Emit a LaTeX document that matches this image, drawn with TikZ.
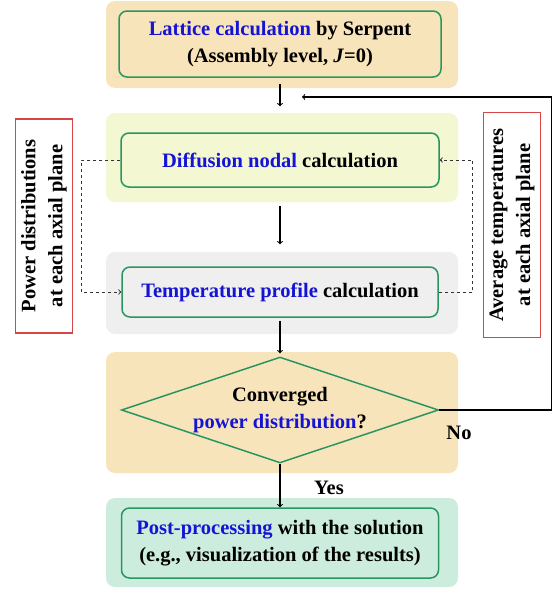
\documentclass[tikz,border=0pt]{standalone}
\usepackage{fontspec}
\setmainfont{Liberation Serif}
\usepackage{tikz}
\usetikzlibrary{arrows}
\usetikzlibrary{shapes}
\definecolor{band_tan}{RGB}{248,228,186}
\definecolor{band_lime}{RGB}{243,247,210}
\definecolor{band_gray}{RGB}{239,239,239}
\definecolor{band_mint}{RGB}{204,237,222}
\definecolor{edge_green}{RGB}{40,150,95}
\definecolor{edge_red}{RGB}{215,70,70}
\definecolor{text_blue}{RGB}{20,20,210}
\newcommand{\bluetext}[1]{\textcolor{text_blue}{#1}}

\begin{document}
\begin{tikzpicture}[->,line width=1.1pt,>=to,x=1pt,y=-1pt,font=\fontsize{20.5}{27}\selectfont\bfseries]
    \tikzstyle{band}=[draw=none, rectangle, rounded corners=9pt, minimum width=352pt]
    \tikzstyle{stepbox}=[draw=edge_green, line width=1.5pt, rectangle, rounded corners=8pt, align=center, text=black]
    \tikzstyle{decision}=[draw=edge_green, line width=1.5pt, diamond, aspect=3, inner sep=0pt, minimum width=317pt, minimum height=106pt, align=center]
    \tikzstyle{note}=[draw=edge_red, line width=1.3pt, rectangle, rotate=90, align=center, minimum height=57pt]
    \tikzstyle{dashlink}=[dashed, line width=1pt, black!80]

    \useasboundingbox (0,0) rectangle (552,589);

    % background bands
    \node[band, fill=band_tan,  minimum height=87pt]  (band1) at (282,44.5)  {};
    \node[band, fill=band_lime, minimum height=89pt]  (band2) at (282,157.5) {};
    \node[band, fill=band_gray, minimum height=82pt]  (band3) at (282,293)   {};
    \node[band, fill=band_tan,  minimum height=121pt] (band4) at (282,412.5) {};
    \node[band, fill=band_mint, minimum height=89pt]  (band5) at (282,542.5) {};

    % steps
    \node[stepbox, minimum width=322pt, minimum height=66pt] (lattice)     at (280,44)  {\bluetext{Lattice calculation} by Serpent\\(Assembly level, \textit{J}=0)};
    \node[stepbox, minimum width=318pt, minimum height=54pt] (diffusion)   at (280,160) {\bluetext{Diffusion nodal} calculation};
    \node[stepbox, minimum width=316pt, minimum height=50pt] (temperature) at (280,292) {\bluetext{Temperature profile} calculation};
    \node[decision]                                          (converged)   at (280,410) {Converged\\\bluetext{power distribution}?};
    \node[stepbox, minimum width=317pt, minimum height=70pt] (post)        at (280,543) {\bluetext{Post-processing} with the solution\\(e.g., visualization of the results)};

    \node[note, minimum width=214pt] (power)   at (44,226)  {Power distributions\\at each axial plane};
    \node[note, minimum width=225pt] (average) at (512,225) {Average temperatures\\at each axial plane};

    \node (no)  at (459,433) {No};
    \node (yes) at (329,488) {Yes};
    \coordinate (return) at (302,97);

    \path
     (lattice)     edge[shorten <=6pt, shorten >=26pt] (diffusion)
     (diffusion)   edge[shorten <=18pt, shorten >=22pt] (temperature)
     (temperature) edge[shorten <=3pt, shorten >=3pt] (converged)
     (converged)   edge (post);

    \draw (converged.east) -- ++(112,0) |- (return);
    \draw[dashlink] (diffusion.west) -- ++(-39,0) |- (temperature.west);
    \draw[dashlink] (temperature.east) -- ++(34,0) |- (diffusion.east);
\end{tikzpicture}
\end{document}
